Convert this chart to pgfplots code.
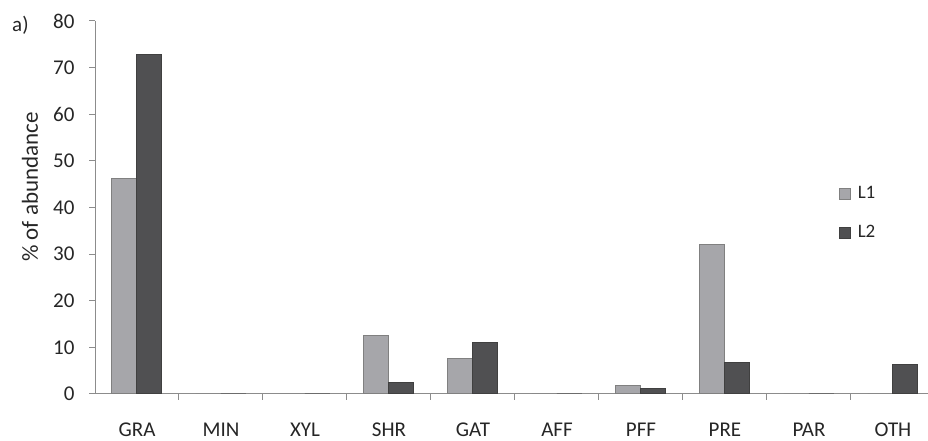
\documentclass[border=0pt]{standalone}
\usepackage{fontspec}
\setmainfont{Carlito}
\usepackage{pgfplots}
\pgfplotsset{compat=1.18}
\definecolor{lone}{RGB}{166,166,170}
\definecolor{ltwo}{RGB}{80,80,82}
\definecolor{axgray}{RGB}{140,140,140}
\begin{document}
\begin{tikzpicture}
\path[use as bounding box] (0,0) rectangle (928pt,441pt);
\node[anchor=base west, inner sep=0pt, font=\fontsize{21}{21}\selectfont, text=black!85] at (12pt,409pt) {a)};
\begin{axis}[
  at={(95pt,47pt)}, anchor=south west,
  scale only axis, width=833pt, height=373pt,
  xmin=-0.5, xmax=9.417, ymin=0, ymax=80,
  ybar=0pt, bar width=25pt,
  axis x line*=bottom, axis y line*=left,
  axis line style={axgray, line width=1pt},
  xtick={0,...,9},
  xticklabels={GRA,MIN,XYL,SHR,GAT,AFF,PFF,PRE,PAR,OTH},
  minor xtick={0.5,1.5,...,8.5},
  major x tick style={draw=none},
  minor tick length=6pt, major tick length=6pt,
  tick align=outside,
  tick style={axgray, line width=1pt},
  ytick={0,10,...,80},
  /pgf/number format/assume math mode=true,
  tick label style={font=\fontsize{21}{21}\selectfont, text=black!85},
  xticklabel style={yshift=-19pt},
  yticklabel style={xshift=-11pt},
  ylabel={\% of abundance},
  every axis y label/.style={at={(rel axis cs:0,0.555)}, xshift=-65pt, rotate=90, anchor=center,
    font=\fontsize{23}{23}\selectfont, text=black!85},
  clip=false,
  legend style={draw=none, fill=none, at={(0.889,0.567)}, anchor=north west,
    font=\fontsize{19}{19}\selectfont, row sep=21pt, text=black!85},
  legend cell align=left,
  legend image code/.code={\draw[#1, line width=1pt] (0pt,-6pt) rectangle (11pt,5pt);},
]
\addplot[fill=lone, draw=black!50, line width=1pt] coordinates {
 (0,46.3) (1,0) (2,0) (3,12.5) (4,7.7) (5,0) (6,1.9) (7,32.0) (8,0) (9,0)};
\addplot[fill=ltwo, draw=black!75, line width=1pt] coordinates {
 (0,72.9) (1,0) (2,0) (3,2.5) (4,11.1) (5,0) (6,1.1) (7,6.8) (8,0) (9,6.3)};
\legend{\hspace{5pt}L1,\hspace{5pt}L2}
\end{axis}
\end{tikzpicture}
\end{document}
